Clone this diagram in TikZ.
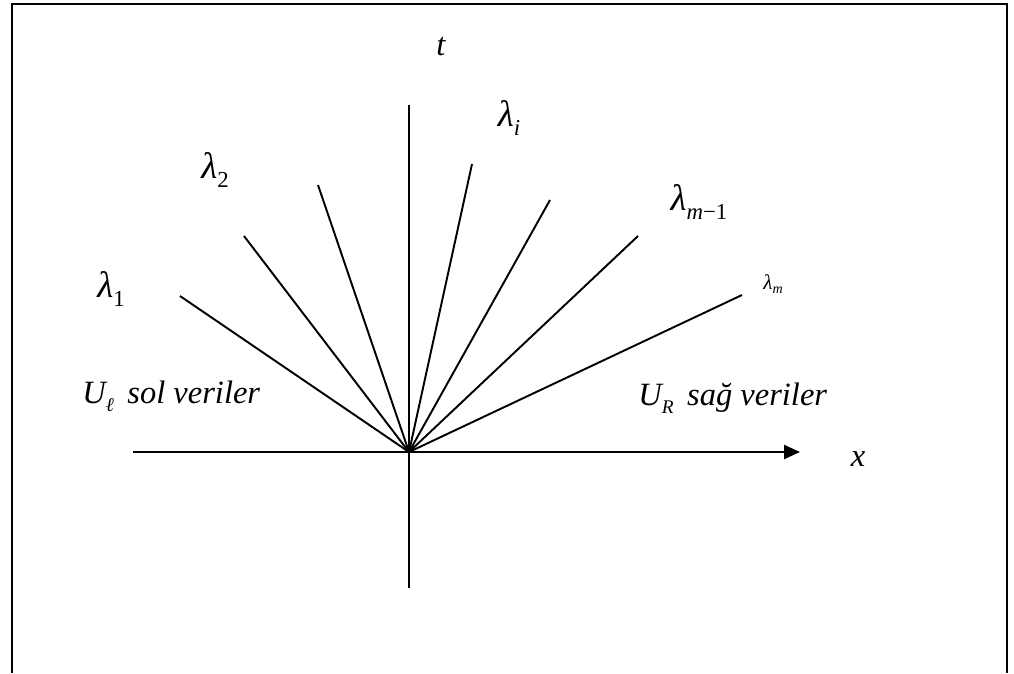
\documentclass[tikz,border=0pt]{standalone}
\usepackage{fontspec}
\setmainfont{Liberation Serif}
\usetikzlibrary{arrows.meta}

\newcommand{\lsub}[1]{\raisebox{-0.55ex}{\fontsize{13}{13}\selectfont #1}}
\newcommand{\ssub}[1]{\raisebox{-0.6ex}{\fontsize{11}{11}\selectfont #1}}

\begin{document}
\begin{tikzpicture}[x=0.02cm, y=-0.02cm,
  axis/.style = {line width=1.3pt},
  ray/.style  = {line width=1.1pt},
  lbl/.style  = {font=\fontsize{18.5}{22}\selectfont\itshape, inner sep=0pt},
  lam/.style  = {font=\fontsize{21}{24}\selectfont\itshape, inner sep=0pt}
]
  \useasboundingbox (0,0) rectangle (1014,673);
  % frame
  \draw[line width=1.2pt] (12,673) -- (12,4) -- (1007,4) -- (1007,673);

  % axes
  \coordinate (O)  at (409,452);
  \coordinate (xl) at (133,452);
  \coordinate (xr) at (800,452);
  \coordinate (tb) at (409,588);
  \coordinate (tt) at (409,105);
  \draw[axis] (xl) -- (O);
  \draw[axis, -{Triangle[length=0.32cm, width=0.28cm]}] (O) -- (xr);
  \draw[axis] (tb) -- (tt);

  % characteristic fan
  \foreach \px/\py [count=\k] in {180/296, 244/236, 318/185, 472/164, 550/200, 638/236, 742/295} {
    \coordinate (r\k) at (\px,\py);
    \draw[ray] (O) -- (r\k);
  }

  % labels
  \node[lbl] (tlab) at (441,47)  {t};
  \node[lbl] (xlab) at (858,459) {x};
  \node[lam] (l1)   at (111,289) {λ\lsub{\upshape 1}};
  \node[lam] (l2)   at (215,170) {λ\lsub{\upshape 2}};
  \node[lam] (li)   at (509,118) {λ\lsub{i}};
  \node[lam] (lm1)  at (699,202) {λ\lsub{m\upshape −1}};
  \node[lam, font=\fontsize{12}{14}\selectfont\itshape] (lm) at (773,284) {λ\raisebox{-0.5ex}{\fontsize{8}{8}\selectfont m}};
  \node[lbl, anchor=base west] (left)  at (82,403)  {U\ssub{ℓ}\ \,sol veriler};
  \node[lbl, anchor=base west] (right) at (638,405) {U\lsub{\fontsize{11}{11}\selectfont R}\ \,sağ veriler};
\end{tikzpicture}
\end{document}
